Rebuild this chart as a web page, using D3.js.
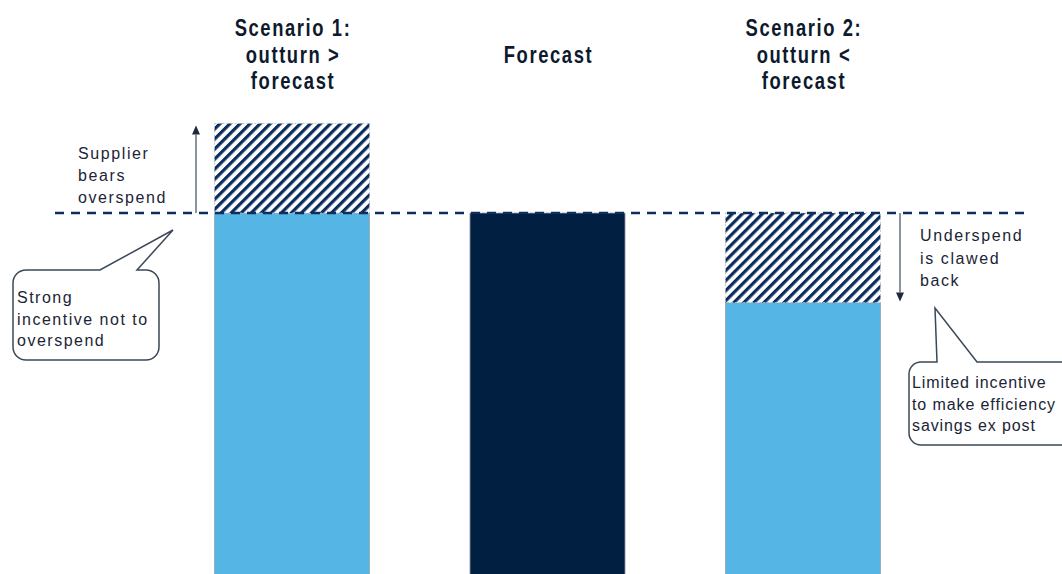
<!DOCTYPE html>
<html>
<head>
<meta charset="utf-8">
<script src="https://cdn.jsdelivr.net/npm/d3@7/dist/d3.min.js"></script>
<style>
  html, body { margin: 0; padding: 0; background: #ffffff; }
  svg { display: block; }
</style>
</head>
<body>
<svg id="chart" width="1062" height="574"></svg>
<script>
// Column identifiers and their heading lines
const categories = ["scenario1", "forecast", "scenario2"];
const headingLines = [
  ["Scenario 1:", "outturn >", "forecast"],
  ["Forecast"],
  ["Scenario 2:", "outturn <", "forecast"]
];

// Spend levels (forecast = 100)
const forecastLevel = 100;
const outturnValues = [124.4, 100, 75.6];

// Annotation text
const overspendNote = ["Supplier", "bears", "overspend"];
const clawbackNote = ["Underspend", "is clawed", "back"];
const leftCallout = ["Strong", "incentive not to", "overspend"];
const rightCallout = ["Limited incentive", "to make efficiency", "savings ex post"];

const W = 1062, H = 574;
const svg = d3.select("#chart");

const x = d3.scaleBand()
  .domain(categories)
  .range([214.5, 880.5])
  .paddingInner(0.393)
  .paddingOuter(0);

const y = d3.scaleLinear()
  .domain([0, forecastLevel])
  .range([580, 213]);

const LIGHT = "#55b5e5";
const NAVY = "#001f41";
const STRIPE = "#0a2c5e";

// Diagonal hatch pattern
const defs = svg.append("defs");
const pat = defs.append("pattern")
  .attr("id", "hatch")
  .attr("patternUnits", "userSpaceOnUse")
  .attr("width", 7.1)
  .attr("height", 7.1)
  .attr("patternTransform", "rotate(45)");
pat.append("rect").attr("width", 7.1).attr("height", 7.1).attr("fill", "#ffffff");
pat.append("line")
  .attr("x1", 1.6).attr("y1", 0).attr("x2", 1.6).attr("y2", 7.1)
  .attr("stroke", STRIPE).attr("stroke-width", 3.2);

// Bar segments: solid part up to min(outturn, forecast), hatched gap to the other
const segments = [];
categories.forEach((c, i) => {
  const v = outturnValues[i];
  if (c === "forecast") {
    segments.push({ c, lo: 0, hi: forecastLevel, fill: NAVY });
  } else {
    const base = Math.min(v, forecastLevel);
    const top = Math.max(v, forecastLevel);
    segments.push({ c, lo: 0, hi: base, fill: LIGHT });
    segments.push({ c, lo: base, hi: top, fill: "url(#hatch)", hatched: true });
  }
});

svg.append("g").selectAll("rect")
  .data(segments)
  .join("rect")
  .attr("x", d => x(d.c))
  .attr("width", x.bandwidth())
  .attr("y", d => y(d.hi))
  .attr("height", d => y(d.lo) - y(d.hi))
  .attr("fill", d => d.fill)
  .attr("stroke", d => d.hatched ? "#b8bec6" : "#9aa3ad")
  .attr("stroke-width", 0.8)
  .attr("stroke-dasharray", d => d.hatched ? "2,2" : null);

// Column headings (bold, horizontally condensed)
const headFont = "'Liberation Sans', Arial, sans-serif";
const headG = svg.append("g");
categories.forEach((c, i) => {
  const lines = headingLines[i];
  const cx = x(c) + x.bandwidth() / 2 + 1;
  const baselines = lines.length === 1 ? [62.5] : [36, 62.5, 89];
  lines.forEach((t, k) => {
    headG.append("text")
      .attr("transform", `translate(${cx},${baselines[k]}) scale(0.8,1)`)
      .attr("text-anchor", "middle")
      .attr("font-family", headFont)
      .attr("font-weight", "bold")
      .attr("font-size", 23)
      .attr("letter-spacing", 2)
      .attr("fill", "#0d1a2e")
      .text(t);
  });
});

// Arrows
function arrow(xp, y0, y1) {
  const dir = Math.sign(y1 - y0);
  const headLen = 9;
  const g = svg.append("g");
  g.append("line")
    .attr("x1", xp).attr("x2", xp)
    .attr("y1", y0).attr("y2", y1 - dir * headLen)
    .attr("stroke", "#8a949f").attr("stroke-width", 2);
  g.append("path")
    .attr("d", `M${xp},${y1} L${xp - 4},${y1 - dir * headLen} L${xp + 4},${y1 - dir * headLen} Z`)
    .attr("fill", "#1e2a3a");
}
arrow(196, y(forecastLevel), y(outturnValues[0]) + 2);
arrow(900, y(forecastLevel), y(outturnValues[2]) - 1);

// Text blocks
const bodyFont = "'Liberation Sans', Arial, sans-serif";
function textBlock(lines, xp, baselines, spacing) {
  const g = svg.append("g");
  lines.forEach((t, k) => {
    g.append("text")
      .attr("x", xp)
      .attr("y", baselines[k])
      .attr("font-family", bodyFont)
      .attr("font-size", 16)
      .attr("letter-spacing", spacing)
      .attr("fill", "#1b2535")
      .text(t);
  });
}
textBlock(overspendNote, 78, [159, 181, 203], 1.6);
textBlock(clawbackNote, 920, [241, 263.5, 286], 1.6);

// Callout bubbles
function callout(x0, y0, x1, y1, r, tA, tB, ax, ay) {
  const p = d3.path();
  p.moveTo(x0 + r, y0);
  p.lineTo(tA, y0);
  p.lineTo(ax, ay);
  p.lineTo(tB, y0);
  p.lineTo(x1 - r, y0);
  p.arcTo(x1, y0, x1, y0 + r, r);
  p.lineTo(x1, y1 - r);
  p.arcTo(x1, y1, x1 - r, y1, r);
  p.lineTo(x0 + r, y1);
  p.arcTo(x0, y1, x0, y1 - r, r);
  p.lineTo(x0, y0 + r);
  p.arcTo(x0, y0, x0 + r, y0, r);
  p.closePath();
  svg.append("path")
    .attr("d", p.toString())
    .attr("fill", "#ffffff")
    .attr("stroke", "#3a4858")
    .attr("stroke-width", 1.5);
}
callout(13, 270, 159, 360, 13, 100, 137, 173, 230);
textBlock(leftCallout, 17, [303, 325, 346], 1.5);

callout(909, 362, 1080, 445, 12, 937, 977, 935, 308);
textBlock(rightCallout, 912, [388, 410, 431], 0.9);

// Forecast reference line
svg.append("line")
  .attr("x1", 55).attr("x2", 1028)
  .attr("y1", y(forecastLevel)).attr("y2", y(forecastLevel))
  .attr("stroke", "#0f2d5e")
  .attr("stroke-width", 2.5)
  .attr("stroke-dasharray", "9,7");
</script>
</body>
</html>
